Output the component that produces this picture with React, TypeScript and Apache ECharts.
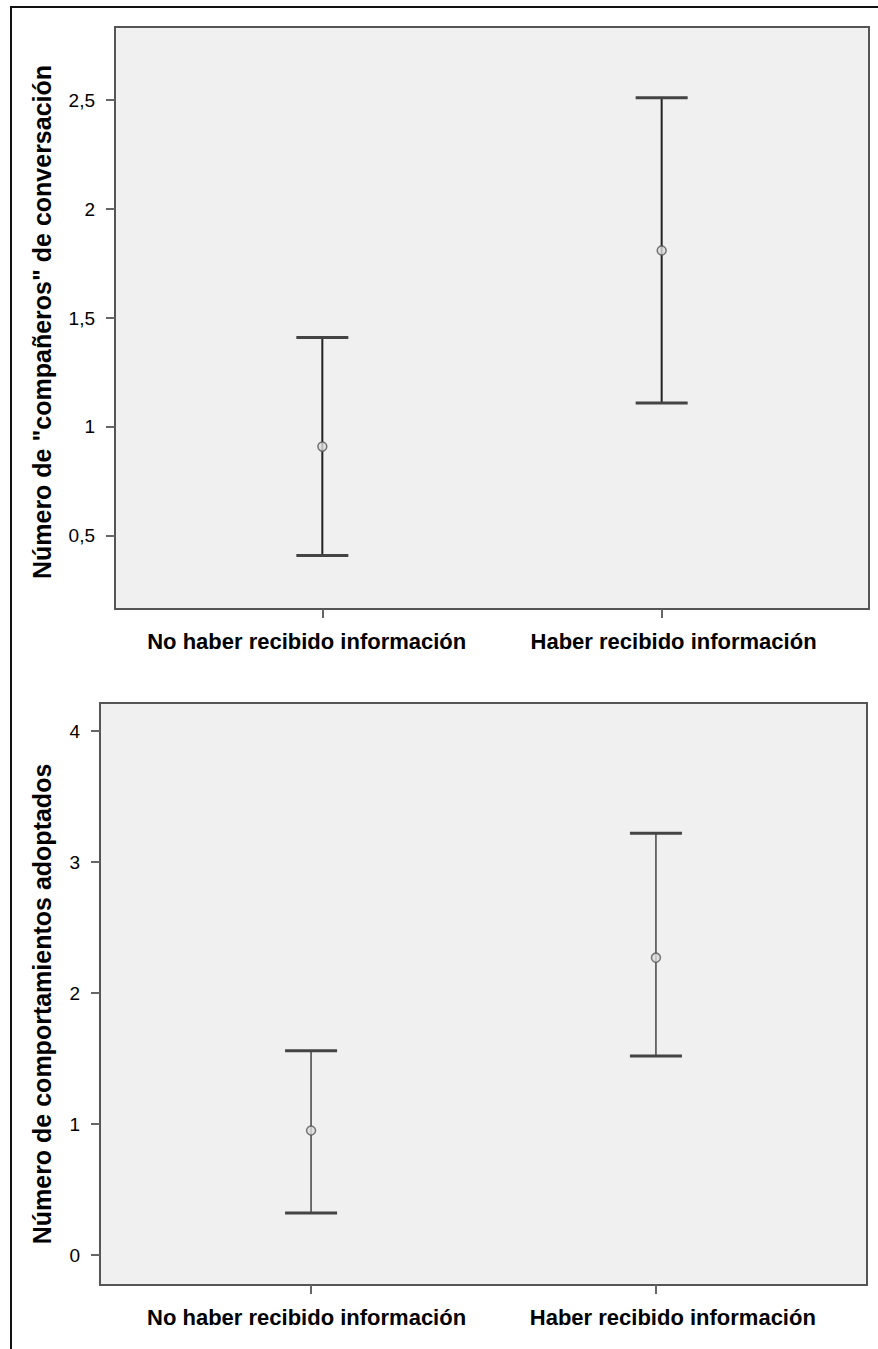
import React, { useEffect, useRef } from "react";
import * as echarts from "echarts";

const categories = ["No haber recibido información", "Haber recibido información"];
const catPositions = [0, 1];
const topLabelPositions = [-0.046, 1.035];
const botLabelPositions = [-0.013, 1.049];

const topName = 'Número de "compañeros" de conversación';
const topMean = [0.91, 1.81];
const topLow = [0.41, 1.11];
const topHigh = [1.41, 2.51];
const topTicks = [0.5, 1, 1.5, 2, 2.5];

const botName = "Número de comportamientos adoptados";
const botMean = [0.95, 2.27];
const botLow = [0.32, 1.52];
const botHigh = [1.56, 3.22];
const botTicks = [0, 1, 2, 3, 4];

const FONT = "'Liberation Sans', Arial, sans-serif";

function errorRender(color: string, vw: number) {
  return (params: any, api: any) => {
    const x = api.value(0);
    const lo = api.value(1);
    const hi = api.value(2);
    const pLo = api.coord([x, lo]);
    const pHi = api.coord([x, hi]);
    const half = 26;
    return {
      type: "group",
      children: [
        { type: "line", shape: { x1: pHi[0], y1: pHi[1], x2: pLo[0], y2: pLo[1] }, style: { stroke: color, lineWidth: vw } },
        { type: "line", shape: { x1: pHi[0] - half, y1: pHi[1], x2: pHi[0] + half, y2: pHi[1] }, style: { stroke: "#444", lineWidth: 3 } },
        { type: "line", shape: { x1: pLo[0] - half, y1: pLo[1], x2: pLo[0] + half, y2: pLo[1] }, style: { stroke: "#444", lineWidth: 3 } },
      ],
    };
  };
}

export default function App() {
  const ref = useRef<HTMLDivElement>(null);
  useEffect(() => {
    if (!ref.current) return;
    const chart = echarts.init(ref.current, null, { renderer: "svg" });
    const xAxisBase = (gi: number, min: number, max: number, labelPos: number[]) => ({
      type: "value",
      gridIndex: gi,
      min,
      max,
      axisLine: { show: false, onZero: false },
      splitLine: { show: false },
      axisTick: { show: true, customValues: catPositions, length: 9, lineStyle: { color: "#666", width: 2 } },
      axisLabel: {
        customValues: labelPos,
        formatter: (v: number) => categories[Math.round(v)],
        margin: 21,
        fontFamily: FONT,
        fontSize: 22,
        fontWeight: "bold",
        color: "#000",
      },
    });
    const yAxisBase = (gi: number, min: number, max: number, ticks: number[], name: string, gap: number, shift: number) => ({
      type: "value",
      gridIndex: gi,
      min,
      max,
      name,
      nameLocation: "middle",
      nameGap: gap,
      nameTextStyle: { fontFamily: FONT, fontSize: 25, fontWeight: "bold", color: "#000", padding: [0, shift, 0, 0] },
      axisLine: { show: false, onZero: false },
      splitLine: { show: false },
      axisTick: { show: true, customValues: ticks, length: 9, lineStyle: { color: "#666", width: 2 } },
      axisLabel: {
        customValues: ticks,
        formatter: (v: number) => String(v).replace(".", ","),
        margin: 20,
        fontFamily: FONT,
        fontSize: 19,
        color: "#000",
      },
    });
    const mk = (means: number[]) => means.map((m, i) => [catPositions[i], m]);
    const ebar = (low: number[], high: number[]) => low.map((l, i) => [catPositions[i], l, high[i]]);
    chart.setOption({
      animation: false,
      backgroundColor: "#fff",
      graphic: [
        { type: "rect", shape: { x: 11, y: 7, width: 900, height: 1400 }, style: { fill: "none", stroke: "#111", lineWidth: 2 }, silent: true },
      ],
      grid: [
        { left: 115, top: 27, width: 754, height: 582, show: true, backgroundColor: "#f0f0f0", borderColor: "#555", borderWidth: 2 },
        { left: 100, top: 703, width: 767, height: 582, show: true, backgroundColor: "#f0f0f0", borderColor: "#555", borderWidth: 2 },
      ],
      xAxis: [xAxisBase(0, -0.611, 1.611, topLabelPositions), xAxisBase(1, -0.612, 1.612, botLabelPositions)],
      yAxis: [
        yAxisBase(0, 0.165, 2.835, topTicks, topName, 61, 8),
        yAxisBase(1, -0.229, 4.214, botTicks, botName, 46, 20),
      ],
      series: [
        { type: "custom", xAxisIndex: 0, yAxisIndex: 0, renderItem: errorRender("#222", 2), data: ebar(topLow, topHigh), z: 2 },
        { type: "custom", xAxisIndex: 1, yAxisIndex: 1, renderItem: errorRender("#444", 1.5), data: ebar(botLow, botHigh), z: 2 },
        { type: "scatter", xAxisIndex: 0, yAxisIndex: 0, symbol: "circle", symbolSize: 9, itemStyle: { color: "#ddd", borderColor: "#555", borderWidth: 1.5 }, data: mk(topMean), z: 3 },
        { type: "scatter", xAxisIndex: 1, yAxisIndex: 1, symbol: "circle", symbolSize: 9, itemStyle: { color: "#ddd", borderColor: "#555", borderWidth: 1.5 }, data: mk(botMean), z: 3 },
      ],
    });
    return () => chart.dispose();
  }, []);
  return (
    <div style={{ position: "absolute", left: 0, top: 0, width: 878, height: 1349, overflow: "hidden" }}>
      <div ref={ref} style={{ width: 878, height: 1349 }} />
    </div>
  );
}
